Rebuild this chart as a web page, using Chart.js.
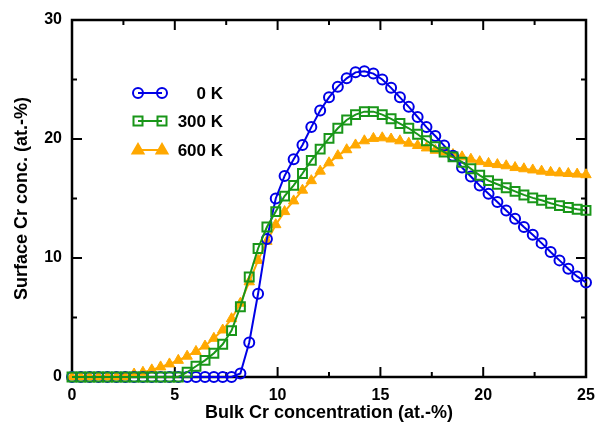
<!DOCTYPE html>
<html>
<head>
  <meta charset="UTF-8">
  <script src="https://cdn.jsdelivr.net/npm/chart.js"></script>
  <style>
    body { margin: 0; background: #fff; }
  </style>
</head>
<body>
  <canvas id="chart" width="597" height="431"></canvas>

  <script>
    // bulk Cr concentration (at.-%), shared by all three curves
    const bulkCr = [0, 0.43, 0.86, 1.29, 1.72, 2.16, 2.59, 3.02, 3.45, 3.88,
      4.31, 4.74, 5.17, 5.60, 6.03, 6.47, 6.90, 7.33, 7.76, 8.19,
      8.62, 9.05, 9.48, 9.91, 10.34, 10.78, 11.21, 11.64, 12.07, 12.50,
      12.93, 13.36, 13.79, 14.22, 14.66, 15.09, 15.52, 15.95, 16.38, 16.81,
      17.24, 17.67, 18.10, 18.53, 18.97, 19.40, 19.83, 20.26, 20.69, 21.12,
      21.55, 21.98, 22.41, 22.84, 23.28, 23.71, 24.14, 24.57, 25.00]

    // surface Cr concentration (at.-%)
    const surf0K = [0, 0, 0, 0, 0, 0, 0, 0, 0, 0,
      0, 0, 0, 0, 0, 0, 0, 0, 0, 0.3,
      2.9, 7.0, 11.6, 15.0, 16.9, 18.3, 19.5, 21.0, 22.4, 23.5,
      24.4, 25.1, 25.6, 25.7, 25.5, 25.0, 24.3, 23.5, 22.7, 21.85,
      21.0, 20.25, 19.45, 18.6, 17.6, 16.85, 16.1, 15.4, 14.7, 14.0,
      13.3, 12.6, 11.95, 11.25, 10.5, 9.8, 9.1, 8.45, 7.95]

    const surf300K = [0, 0, 0, 0, 0, 0, 0, 0, 0, 0,
      0, 0, 0, 0.4, 0.9, 1.4, 2.0, 2.75, 3.9, 5.9,
      8.4, 10.8, 12.6, 13.9, 15.2, 16.1, 17.1, 18.2, 19.15, 20.05,
      20.9, 21.6, 22.05, 22.3, 22.3, 22.05, 21.7, 21.3, 20.9, 20.4,
      19.85, 19.35, 18.9, 18.5, 18.05, 17.5, 16.95, 16.5, 16.2, 15.9,
      15.6, 15.3, 15.05, 14.85, 14.6, 14.4, 14.25, 14.1, 14.0]

    const surf600K = [0, 0, 0, 0, 0, 0, 0, 0.25, 0.4, 0.6,
      0.85, 1.1, 1.4, 1.75, 2.15, 2.6, 3.25, 3.95, 4.9, 6.2,
      8.0, 9.8, 11.4, 12.8, 13.9, 14.8, 15.7, 16.5, 17.3, 18.0,
      18.6, 19.1, 19.5, 19.85, 20.05, 20.1, 20.0, 19.85, 19.65, 19.45,
      19.25, 19.05, 18.9, 18.7, 18.5, 18.3, 18.1, 17.95, 17.85, 17.75,
      17.6, 17.5, 17.4, 17.3, 17.2, 17.15, 17.1, 17.05, 17.0]

    const seriesNames = ['0 K', '300 K', '600 K']
    const xTicks = [0, 5, 10, 15, 20, 25]
    const yTicks = [0, 10, 20, 30]

    const BLUE = 'rgb(0,0,230)'
    const GREEN = 'rgb(25,150,25)'
    const ORANGE = 'rgb(255,168,0)'
    const FONT = "'Liberation Sans', Arial, sans-serif"

    const toPoints = ys => bulkCr.map((x, i) => ({ x: x, y: ys[i] }))

    // frame + inward ticks on all four sides (gnuplot style)
    const framePlugin = {
      id: 'frame',
      beforeDatasetsDraw(chart) {
        const { ctx, chartArea: a, scales } = chart
        ctx.save()
        ctx.strokeStyle = '#000'
        ctx.lineWidth = 2
        const tick = (x1, y1, x2, y2) => { ctx.beginPath(); ctx.moveTo(x1, y1); ctx.lineTo(x2, y2); ctx.stroke() }
        xTicks.forEach((v, i) => {
          const px = scales.x.getPixelForValue(v)
          tick(px, a.bottom, px, a.bottom - 10)
          tick(px, a.top, px, a.top + 10)
          if (i > 0) {
            const mx = scales.x.getPixelForValue((v + xTicks[i - 1]) / 2)
            tick(mx, a.bottom, mx, a.bottom - 5)
            tick(mx, a.top, mx, a.top + 5)
          }
        })
        yTicks.forEach((v, i) => {
          const py = scales.y.getPixelForValue(v)
          tick(a.left, py, a.left + 10, py)
          tick(a.right, py, a.right - 10, py)
          if (i > 0) {
            const my = scales.y.getPixelForValue((v + yTicks[i - 1]) / 2)
            tick(a.left, my, a.left + 5, my)
            tick(a.right, my, a.right - 5, my)
          }
        })
        ctx.lineWidth = 2.5
        ctx.strokeRect(a.left, a.top, a.right - a.left, a.bottom - a.top)
        ctx.restore()
      }
    }

    // legend inside the plot, upper left
    const legendPlugin = {
      id: 'innerLegend',
      afterDatasetsDraw(chart) {
        const ctx = chart.ctx
        const rows = [93, 121, 150]
        const styles = [
          { color: BLUE, shape: 'circle' },
          { color: GREEN, shape: 'rect' },
          { color: ORANGE, shape: 'triangle' }
        ]
        ctx.save()
        rows.forEach((y, i) => {
          const s = styles[i]
          ctx.strokeStyle = s.color
          ctx.fillStyle = s.color
          ctx.lineWidth = 2
          ctx.beginPath(); ctx.moveTo(138, y); ctx.lineTo(162, y); ctx.stroke()
          ;[138, 162].forEach(mx => {
            ctx.beginPath()
            if (s.shape === 'circle') {
              ctx.arc(mx, y, 5, 0, Math.PI * 2); ctx.stroke()
            } else if (s.shape === 'rect') {
              ctx.rect(mx - 4.5, y - 4.5, 9, 9); ctx.stroke()
            } else {
              ctx.moveTo(mx, y - 6); ctx.lineTo(mx + 5.5, y + 3.5); ctx.lineTo(mx - 5.5, y + 3.5); ctx.closePath()
              ctx.fill(); ctx.stroke()
            }
          })
          ctx.fillStyle = '#000'
          ctx.font = 'bold 17px ' + FONT
          ctx.textAlign = 'right'
          ctx.textBaseline = 'middle'
          ctx.fillText(seriesNames[i], 223, y + 1)
        })
        ctx.restore()
      }
    }

    const chart = new Chart(document.getElementById('chart'), {
      type: 'line',
      data: {
        datasets: [{
          label: seriesNames[0],
          data: toPoints(surf0K),
          borderColor: BLUE,
          borderWidth: 2,
          pointStyle: 'circle',
          pointRadius: 5,
          pointBorderWidth: 2,
          pointBorderColor: BLUE,
          pointBackgroundColor: 'rgba(0,0,0,0)',
          order: 1,
          clip: false
        }, {
          label: seriesNames[1],
          data: toPoints(surf300K),
          borderColor: GREEN,
          borderWidth: 2,
          pointStyle: 'rect',
          pointRadius: 6.3,
          pointBorderWidth: 2,
          pointBorderColor: GREEN,
          pointBackgroundColor: 'rgba(0,0,0,0)',
          order: 0,
          clip: false
        }, {
          label: seriesNames[2],
          data: toPoints(surf600K),
          borderColor: ORANGE,
          borderWidth: 2,
          pointStyle: 'triangle',
          pointRadius: 6,
          pointBorderWidth: 1,
          pointBorderColor: ORANGE,
          pointBackgroundColor: ORANGE,
          order: 2,
          clip: false
        }]
      },
      options: {
        responsive: false,
        devicePixelRatio: 1,
        animation: false,
        events: [],
        layout: { padding: { top: 20, right: 11, left: 4, bottom: 0 } },
        plugins: { legend: { display: false }, tooltip: { enabled: false } },
        scales: {
          x: {
            type: 'linear',
            min: 0,
            max: 25,
            afterBuildTicks: s => { s.ticks = xTicks.map(v => ({ value: v })) },
            afterFit: s => { s.height = 54; s.paddingLeft = 0; s.paddingRight = 0 },
            grid: { display: false, drawTicks: false },
            border: { display: false },
            ticks: { color: '#000', padding: 9, font: { family: FONT, size: 16, weight: 'bold' } },
            title: {
              display: true,
              text: 'Bulk Cr concentration (at.-%)',
              color: '#000',
              font: { family: FONT, size: 18, weight: 'bold' },
              padding: { top: 0, bottom: 7 }
            }
          },
          y: {
            min: 0,
            max: 30,
            afterBuildTicks: s => { s.ticks = yTicks.map(v => ({ value: v })) },
            afterFit: s => { s.width = 68; s.paddingTop = 0; s.paddingBottom = 0 },
            grid: { display: false, drawTicks: false },
            border: { display: false },
            ticks: { color: '#000', padding: 10, font: { family: FONT, size: 16, weight: 'bold' } },
            title: {
              display: true,
              text: 'Surface Cr conc. (at.-%)',
              color: '#000',
              font: { family: FONT, size: 18, weight: 'bold' },
              padding: { top: 7, bottom: 0 }
            }
          }
        }
      },
      plugins: [framePlugin, legendPlugin]
    })
  </script>
</body>
</html>
